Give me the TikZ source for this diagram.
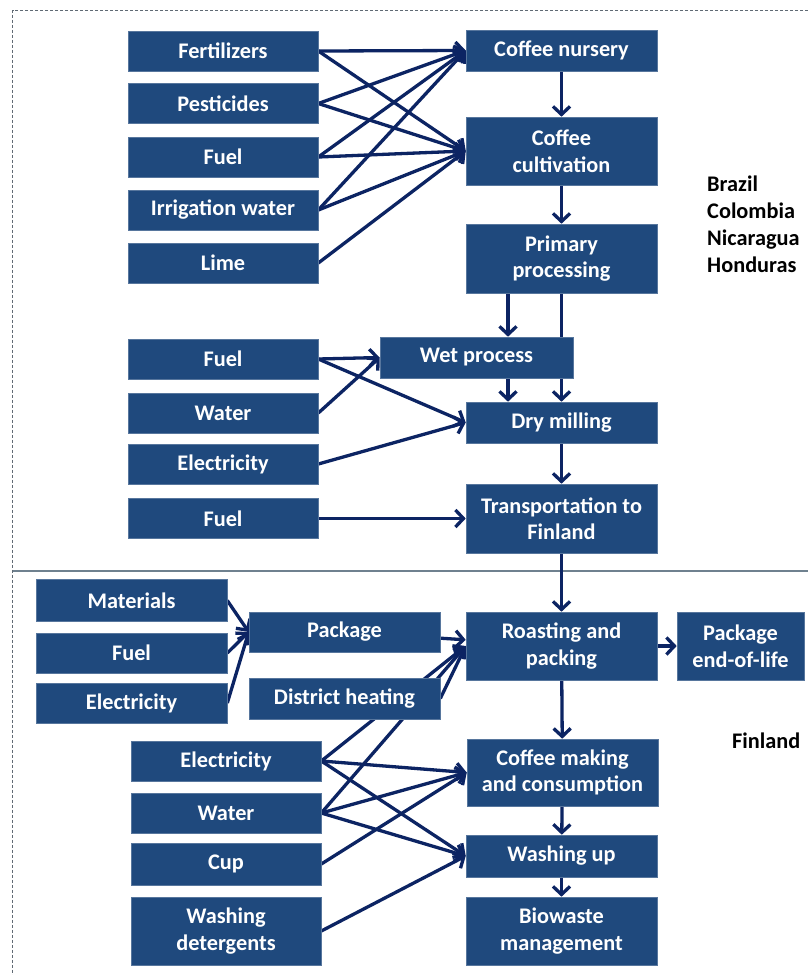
\documentclass[tikz,border=0pt]{standalone}
\usepackage{fontspec}
\setmainfont{Carlito}
\usetikzlibrary{arrows.meta,backgrounds}
\definecolor{boxblue}{HTML}{1F497D}
\definecolor{arrblue}{HTML}{0C2463}
\definecolor{framegray}{HTML}{606A74}
\definecolor{sepgray}{HTML}{6F818F}
\begin{document}
\begin{tikzpicture}[x=1pt,y=-1pt,
  box/.style={fill=boxblue, draw=boxblue!75!white, line width=0.6pt, text=white,
    font=\fontsize{22.3}{26.5}\selectfont\bfseries, align=center, inner sep=0pt,
    minimum width=191pt, minimum height=41pt},
  arr/.style={draw=arrblue, line width=3.3pt,
    -{Straight Barb[length=8pt,width=17pt,line width=3.3pt]}},
  lbl/.style={font=\fontsize{22.3}{27}\selectfont\bfseries, align=left, inner sep=0pt, anchor=west}]
\useasboundingbox (0,0) rectangle (808,975);
% Brazil part: inputs
\node[box, minimum width=190pt, minimum height=40pt] (fert) at (223,51) {Fertilizers};
\node[box, minimum width=190pt, minimum height=40pt] (pest) at (223,103.5) {Pesticides};
\node[box, minimum width=190pt, minimum height=40pt] (fuelA) at (223,157) {Fuel};
\node[box, minimum width=190pt, minimum height=40pt] (irr) at (223,210) {Irrigation water};
\node[box, minimum width=190pt, minimum height=40pt] (lime) at (223,263) {Lime};
% Brazil chain
\node[box] (nurs) at (561.5,50.5) {Coffee nursery};
\node[box, minimum height=68pt] (cult) at (561.5,151) {Coffee\\cultivation};
\node[box, minimum height=69pt] (prim) at (561.5,258.5) {Primary\\processing};
\node[box, minimum width=193pt] (wet) at (476.5,357.5) {Wet process};
\node[box] (dry) at (561.5,422.5) {Dry milling};
\node[box, minimum height=69pt] (trans) at (561.5,518.5) {Transportation to\\Finland};
% middle inputs
\node[box, minimum width=190pt, minimum height=40pt] (fuelB) at (223,359) {Fuel};
\node[box, minimum width=190pt, minimum height=40pt] (waterA) at (223,413) {Water};
\node[box, minimum width=190pt, minimum height=40pt] (elecA) at (223,464) {Electricity};
\node[box, minimum width=190pt, minimum height=40pt] (fuelC) at (223,518.5) {Fuel};
% country labels
\node[lbl] (br) at (707,224) {Brazil\\Colombia\\Nicaragua\\Honduras};
\node[lbl] (fi) at (732,741) {Finland};
% Finland part
\node[box, minimum height=42pt] (mat) at (131.5,600.5) {Materials};
\node[box, minimum height=40pt] (fuelD) at (131.5,653) {Fuel};
\node[box, minimum height=40pt] (elecB) at (131.5,703) {Electricity};
\node[box, minimum height=40pt] (pkg) at (344.5,632) {Package};
\node[box] (dh) at (344.5,698.5) {District heating};
\node[box, minimum width=190pt, minimum height=40pt] (elecC) at (226,761) {Electricity};
\node[box, minimum width=190pt, minimum height=40pt] (waterB) at (226,813) {Water};
\node[box, minimum width=190pt, minimum height=42pt] (cup) at (226,864) {Cup};
\node[box, minimum width=190pt, minimum height=68pt] (det) at (226,931) {Washing\\detergents};
\node[box, minimum height=68pt] (roast) at (561.5,646) {Roasting and\\packing};
\node[box, minimum width=127pt, minimum height=68pt] (eol) at (740.5,646) {Package\\end-of-life};
\node[box, minimum height=67pt] (make) at (562.5,772.5) {Coffee making\\and consumption};
\node[box, minimum height=42pt] (wash) at (561.5,856) {Washing up};
\node[box, minimum height=68pt] (bio) at (561.5,931) {Biowaste\\management};
% connectors and frame, behind the boxes
\begin{scope}[on background layer]
\fill[white] (0,0) rectangle (808,975);
\draw[framegray, line width=1pt, dash pattern=on 3pt off 2pt] (808,10) -- (12.7,10) -- (12.7,975);
\draw[sepgray, line width=1.2pt] (12.7,571) -- (808,571);
\foreach \s in {fert,pest,fuelA,irr} {\draw[arr] (\s.east) -- (nurs.west);}
\foreach \s in {fert,pest,fuelA,irr,lime} {\draw[arr] (\s.east) -- (cult.west);}
\draw[arr] (nurs) -- (cult);
\draw[arr] (cult) -- (prim);
\draw[arr] ([xshift=-53.5pt]prim.south) -- ([xshift=-53.5pt]prim.south |- wet.north);
\draw[arr] (prim.south) -- (dry.north);
\draw[arr] ([xshift=-53.5pt]dry.north |- wet.south) -- ([xshift=-53.5pt]dry.north);
\draw[arr] (fuelB.east) -- (wet.west);
\draw[arr] (waterA.east) -- (wet.west);
\draw[arr] (fuelB.east) -- (dry.west);
\draw[arr] (elecA.east) -- (dry.west);
\draw[arr] (fuelC.east) -- (trans.west);
\draw[arr] (dry) -- (trans);
\draw[arr] (trans) -- (roast);
\foreach \s in {mat,fuelD,elecB} {\draw[arr] (\s.east) -- (pkg.west);}
\draw[arr] (pkg) -- (roast);
\draw[arr] (roast) -- (eol);
\foreach \s in {dh,elecC,waterB} {\draw[arr] (\s.east) -- (roast.west);}
\foreach \s in {elecC,waterB,cup} {\draw[arr] (\s.east) -- (make.west);}
\foreach \s in {elecC,waterB,det} {\draw[arr] (\s.east) -- (wash.west);}
\draw[arr] (roast) -- (make);
\draw[arr] (make) -- (wash);
\draw[arr] (wash) -- (bio);
\end{scope}
\end{tikzpicture}
\end{document}
